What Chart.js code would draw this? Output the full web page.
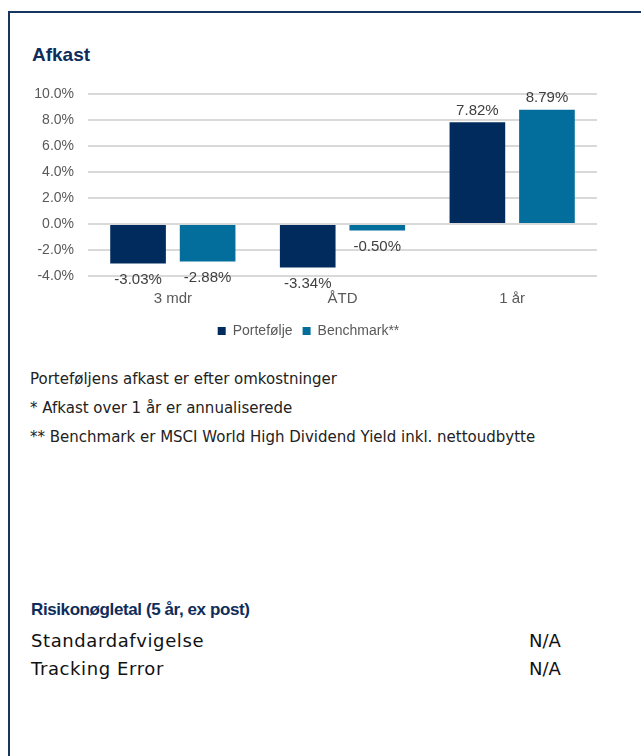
<!DOCTYPE html>
<html>
<head>
<meta charset="utf-8">
<script src="https://cdn.jsdelivr.net/npm/chart.js@4"></script>
<style>
  body { margin: 0; width: 641px; height: 756px; overflow: hidden; background: #fff; position: relative; font-family: "Liberation Sans", Arial, sans-serif; }
  .frame { position: absolute; left: 8px; top: 11px; width: 700px; height: 800px; border: 2px solid #16355f; box-sizing: border-box; }
  .title { position: absolute; left: 32px; top: 44px; font-size: 19px; font-weight: bold; color: #0f2d5a; }
  #wrap { position: absolute; left: 0; top: 70px; width: 641px; height: 285px; }
  .note { position: absolute; left: 30px; color: #222; font-family: "DejaVu Sans", sans-serif; font-size: 15px; }
  .risk-title { position: absolute; left: 31px; top: 600px; font-size: 17px; letter-spacing: -0.4px; font-weight: bold; color: #0f2d5a; }
  .row { position: absolute; left: 31px; font-family: "DejaVu Sans", sans-serif; font-size: 18px; letter-spacing: 0.6px; color: #111; width: 540px; }
  .row span { position: absolute; left: 498px; letter-spacing: 0; }
</style>
</head>
<body>
<div class="frame"></div>
<div class="title">Afkast</div>
<div id="wrap"><canvas id="c"></canvas></div>
<div class="note" style="top:370px">Porteføljens afkast er efter omkostninger</div>
<div class="note" style="top:399px">* Afkast over 1 år er annualiserede</div>
<div class="note" style="top:428px">** Benchmark er MSCI World High Dividend Yield inkl. nettoudbytte</div>
<div class="risk-title">Risikonøgletal (5 år, ex post)</div>
<div class="row" style="top:630px">Standardafvigelse<span>N/A</span></div>
<div class="row" style="top:658px">Tracking Error<span>N/A</span></div>
<script>
const categories = ["3 mdr", "ÅTD", "1 år"];
const portefolje = [-3.03, -3.34, 7.82];
const benchmark = [-2.88, -0.50, 8.79];
const seriesNames = ["Portefølje", "Benchmark**"];

const family = "'Liberation Sans', Arial, sans-serif";

// data labels: above positive bars, below negative ones
const valueLabels = {
  id: "valueLabels",
  afterDatasetsDraw(chart) {
    const ctx = chart.ctx;
    ctx.save();
    ctx.font = "15px " + family;
    ctx.fillStyle = "#404040";
    ctx.textAlign = "center";
    chart.data.datasets.forEach((ds, i) => {
      chart.getDatasetMeta(i).data.forEach((bar, j) => {
        const v = ds.data[j];
        const txt = v.toFixed(2) + "%";
        if (v >= 0) {
          ctx.textBaseline = "bottom";
          ctx.fillText(txt, bar.x, bar.y - 4);
        } else {
          ctx.textBaseline = "top";
          ctx.fillText(txt, bar.x, bar.y + 9);
        }
      });
    });
    ctx.restore();
  }
};

new Chart(document.getElementById("c"), {
  type: "bar",
  data: {
    labels: categories,
    datasets: [
      { label: seriesNames[0], data: portefolje, backgroundColor: "#002b5c" },
      { label: seriesNames[1], data: benchmark, backgroundColor: "#036d9b" }
    ]
  },
  options: {
    responsive: true,
    maintainAspectRatio: false,
    animation: false,
    categoryPercentage: 0.82,
    barPercentage: 0.8,
    layout: { padding: { left: 20, right: 44, top: 24, bottom: 7 } },
    scales: {
      y: {
        min: -4, max: 10,
        ticks: {
          stepSize: 2,
          color: "#595959",
          font: { size: 14, family },
          padding: 14,
          callback: v => v.toFixed(1) + "%"
        },
        grid: { color: "#d9d9d9", lineWidth: 2, drawTicks: false },
        border: { display: false },
        afterFit: s => { s.width = 68; }
      },
      x: {
        ticks: {
          color: "#595959",
          font: { size: 15, family },
          padding: 6
        },
        grid: { display: false },
        border: { display: false }
      }
    },
    plugins: {
      tooltip: { enabled: false },
      legend: {
        position: "bottom",
        labels: {
          boxWidth: 8,
          boxHeight: 8,
          color: "#595959",
          padding: 10,
          font: { size: 14, family }
        }
      }
    }
  },
  plugins: [valueLabels]
});
</script>
</body>
</html>
